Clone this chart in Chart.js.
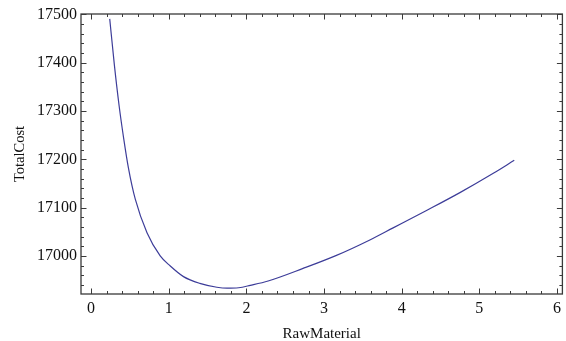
<!DOCTYPE html>
<html>
<head>
<meta charset="utf-8">
<script src="https://cdn.jsdelivr.net/npm/chart.js@4/dist/chart.umd.min.js"></script>
<style>
    html, body { margin: 0; padding: 0; background: #fff; }
    #wrap { width: 566px; height: 341px; }
</style>
</head>
<body>
<div id="wrap"><canvas id="costChart" width="566" height="341"></canvas></div>
<script>
// Data
const rawMaterial = [0.24, 0.30, 0.36, 0.42, 0.48, 0.57, 0.72, 0.89, 1.02, 1.19, 1.40, 1.62,
    1.75, 1.90, 2.05, 2.28, 2.73, 3.16, 3.59, 3.89, 4.32, 4.75, 5.18, 5.45];
const totalCost = [17491, 17395, 17312, 17243, 17183, 17117, 17048, 17000, 16979, 16957, 16943, 16935,
    16933, 16934, 16939, 16948, 16974, 17001, 17033, 17058, 17094, 17131, 17171, 17198];

// Axis ticks
const xTickValues = [0, 1, 2, 3, 4, 5, 6];
const yTickValues = [17000, 17100, 17200, 17300, 17400, 17500];
const xMinorStep = 0.2;
const yMinorStep = 20;

const serif = "'Liberation Serif', 'DejaVu Serif', serif";

// Mathematica-like frame with inward ticks on all four sides
const frameTicks = {
    id: 'frameTicks',
    afterDatasetsDraw(chart) {
        const { ctx, chartArea: a, scales: { x, y } } = chart;
        ctx.save();
        ctx.strokeStyle = '#3a3a3a';
        ctx.lineWidth = 1.3;
        ctx.strokeRect(a.left, a.top, a.right - a.left, a.bottom - a.top);

        ctx.lineWidth = 1;
        const tick = (x1, y1, x2, y2) => {
            ctx.beginPath();
            ctx.moveTo(x1, y1);
            ctx.lineTo(x2, y2);
            ctx.stroke();
        };
        // x ticks
        for (let v = Math.ceil(x.min / xMinorStep) * xMinorStep; v <= x.max; v += xMinorStep) {
            const isMajor = xTickValues.some(t => Math.abs(t - v) < 1e-6);
            const len = isMajor ? 5.5 : 3;
            const px = Math.round(x.getPixelForValue(v)) + 0.5;
            tick(px, a.bottom, px, a.bottom - len);
            tick(px, a.top, px, a.top + len);
        }
        // y ticks
        for (let v = Math.ceil(y.min / yMinorStep) * yMinorStep; v <= y.max; v += yMinorStep) {
            const isMajor = yTickValues.some(t => Math.abs(t - v) < 1e-6);
            const len = isMajor ? 5.5 : 3;
            const py = Math.round(y.getPixelForValue(v)) + 0.5;
            tick(a.left, py, a.left + len, py);
            tick(a.right, py, a.right - len, py);
        }
        ctx.restore();
    }
};

new Chart(document.getElementById('costChart'), {
    type: 'scatter',
    data: {
        datasets: [{
            data: rawMaterial.map((v, i) => ({ x: v, y: totalCost[i] })),
            showLine: true,
            borderColor: '#3d3d99',
            borderWidth: 1.2,
            pointRadius: 0,
            cubicInterpolationMode: 'monotone',
            fill: false
        }]
    },
    options: {
        responsive: false,
        animation: false,
        devicePixelRatio: 1,
        layout: { padding: { top: 14, right: 3, left: 0, bottom: 0 } },
        plugins: {
            legend: { display: false },
            tooltip: { enabled: false }
        },
        scales: {
            x: {
                type: 'linear',
                min: -0.13,
                max: 6.07,
                afterBuildTicks: (scale) => { scale.ticks = xTickValues.map(v => ({ value: v })); },
                afterFit: (scale) => { scale.height = 47; },
                grid: { display: false, drawTicks: false },
                border: { display: false },
                ticks: {
                    padding: 5,
                    maxRotation: 0,
                    color: '#111',
                    font: { family: serif, size: 16 },
                    callback: (v) => String(v)
                },
                title: {
                    display: true,
                    text: 'RawMaterial',
                    color: '#111',
                    font: { family: serif, size: 15, lineHeight: 1 },
                    padding: { top: 0, bottom: -1 }
                }
            },
            y: {
                type: 'linear',
                min: 16921,
                max: 17501,
                afterBuildTicks: (scale) => { scale.ticks = yTickValues.map(v => ({ value: v })); },
                afterFit: (scale) => { scale.width = 81; },
                grid: { display: false, drawTicks: false },
                border: { display: false },
                ticks: {
                    padding: 4,
                    color: '#111',
                    font: { family: serif, size: 16 },
                    callback: (v) => String(v)
                },
                title: {
                    display: true,
                    text: 'TotalCost',
                    color: '#111',
                    font: { family: serif, size: 14.5, lineHeight: 1 },
                    padding: { top: 13, bottom: 0 }
                }
            }
        }
    },
    plugins: [frameTicks]
});
</script>
</body>
</html>
